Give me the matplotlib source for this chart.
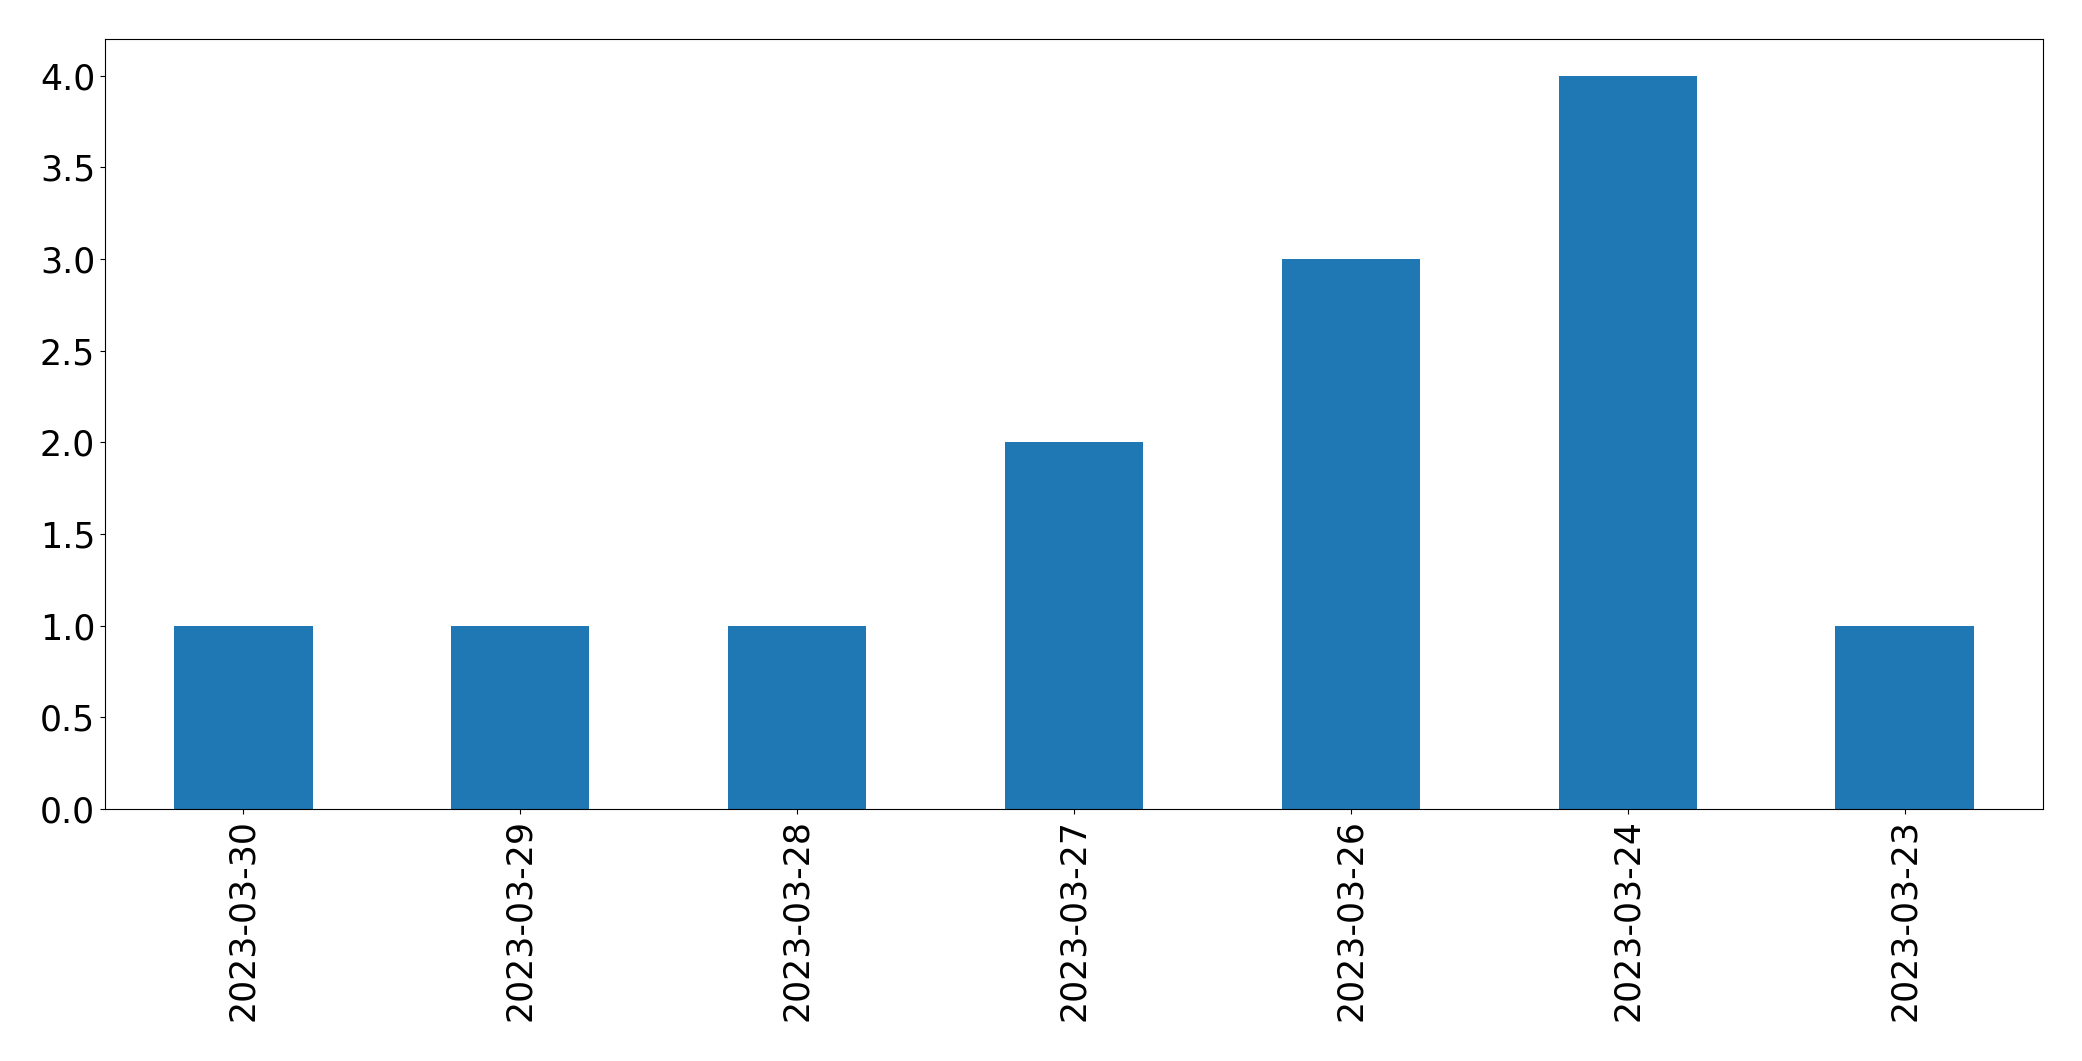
import matplotlib
matplotlib.use("Agg")
import matplotlib.pyplot as plt
import pandas as pd

# ---------------- Data ----------------
dates = ["2023-03-30", "2023-03-29", "2023-03-28", "2023-03-27",
         "2023-03-26", "2023-03-24", "2023-03-23"]
counts = [1, 1, 1, 2, 3, 4, 1]

s = pd.Series(counts, index=dates)

# ---------------- Plot ----------------
plt.rcParams["font.size"] = 25
fig = plt.figure(figsize=(20.82, 10.61), dpi=100)
ax = fig.add_subplot(111)
s.plot(kind="bar", ax=ax, color="#1f77b4")
ax.set_ylim(0, 4.2)
fig.subplots_adjust(left=0.0504, right=0.9813, top=0.9632, bottom=0.2375)
fig.savefig("out.png", dpi=100)
